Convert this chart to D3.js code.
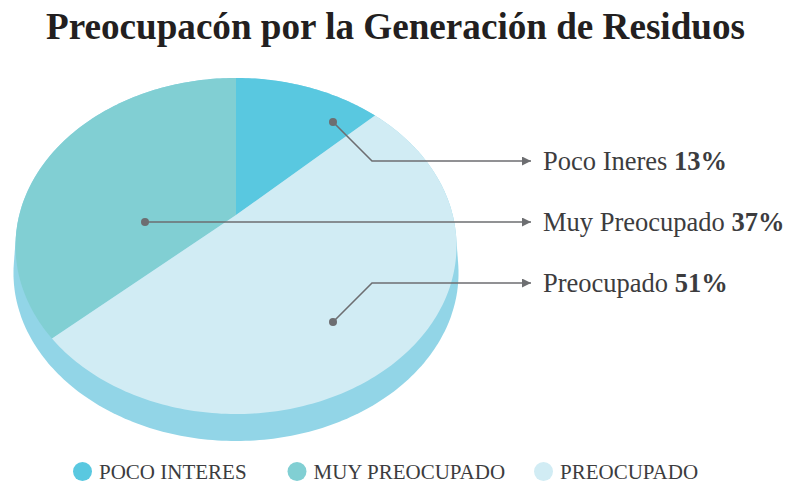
<!DOCTYPE html>
<html>
<head>
<meta charset="utf-8">
<script src="https://cdn.jsdelivr.net/npm/d3@7"></script>
<style>
	html, body { margin: 0; padding: 0; background: #fff; }
	svg { display: block; font-family: "Liberation Serif", "Times New Roman", serif; }
</style>
</head>
<body>
<div id="chart"></div>
<script>
"use strict";

//---- Data
const title = 'Preocupacón por la Generación de Residuos';
const categories = ['POCO INTERES', 'MUY PREOCUPADO', 'PREOCUPADO'];
const labelNames = ['Poco Ineres', 'Muy Preocupado', 'Preocupado'];
const values = [13, 37, 51];
const sliceOrder = ['POCO INTERES', 'PREOCUPADO', 'MUY PREOCUPADO'];
const colors = ['#59c8e0', '#81cfd3', '#d1ecf4'];

const width = 788, height = 482;

// tilted disc, seen with a bit of perspective
const cx = 236, cy = 215, A = 162.3, B = 216.7, k = 0.1845, depth = 27;

function project(a, r, dy = 0, grow = 0) {
	let u = r * Math.sin(a), v = r * Math.cos(a), w = 1 + k * v;
	return [cx + (B + grow) * u / w, cy + dy - A * v / w];
}

let data = categories.map((c, i) => ({ cat: c, name: labelNames[i], value: values[i], color: colors[i] }));

let svg = d3.select('#chart').append('svg')
	.attr('width', width)
	.attr('height', height)
	.attr('viewBox', [0, 0, width, height]);

//---- Title
svg.append('text')
	.attr('x', 395.5)
	.attr('y', 39)
	.attr('text-anchor', 'middle')
	.attr('textLength', 699)
	.attr('lengthAdjust', 'spacingAndGlyphs')
	.style('font-size', '38px')
	.style('font-weight', 'bold')
	.style('fill', '#231f20')
	.text(title);

//---- Side of the disc
let ring = d3.range(0, 2 * Math.PI, Math.PI / 180);
let hull = d3.polygonHull(ring.map(a => project(a, 1)).concat(ring.map(a => project(a, 1, depth, 2))));
svg.append('path')
	.attr('d', 'M' + hull.join('L') + 'Z')
	.style('fill', '#92d5e7');

//---- Slices
let pie = d3.pie()
	.value(d => d.value)
	.sort((a, b) => sliceOrder.indexOf(a.cat) - sliceOrder.indexOf(b.cat));

let line = d3.line();
svg.selectAll('.slice')
	.data(pie(data))
	.join('path')
	.classed('slice', true)
	.attr('d', s => {
		let n = Math.max(2, Math.ceil((s.endAngle - s.startAngle) / (Math.PI / 180)));
		let pts = [project(0, 0)].concat(d3.range(n + 1).map(i => project(s.startAngle + (s.endAngle - s.startAngle) * i / n, 1)));
		return line(pts) + 'Z';
	})
	.style('fill', s => s.data.color);

//---- Leader lines and labels
const leaderColor = '#6d6e71';
let rowY = d3.scalePoint().domain(categories).range([161, 283]);
const leaderDotX = [333, 145, 333], leaderDotDy = [-39, 0, 39], leaderBendX = [372, 145, 372];
const arrowTip = 531, labelX = 543;

svg.append('defs').append('marker')
	.attr('id', 'arrow')
	.attr('viewBox', '0 0 10 10')
	.attr('refX', 10)
	.attr('refY', 5)
	.attr('markerUnits', 'userSpaceOnUse')
	.attr('markerWidth', 9)
	.attr('markerHeight', 9)
	.attr('orient', 'auto')
	.append('path')
		.attr('d', 'M0,0L10,5L0,10Z')
		.style('fill', leaderColor);

let leaders = svg.selectAll('.leader')
	.data(data)
	.join('g')
	.classed('leader', true);

leaders.append('path')
	.attr('d', (d, i) => line([
		[leaderDotX[i], rowY(d.cat) + leaderDotDy[i]],
		[leaderBendX[i], rowY(d.cat)],
		[arrowTip, rowY(d.cat)]
	]))
	.style('fill', 'none')
	.style('stroke', leaderColor)
	.style('stroke-width', 1.6)
	.attr('marker-end', 'url(#arrow)');

leaders.append('circle')
	.attr('cx', (d, i) => leaderDotX[i])
	.attr('cy', (d, i) => rowY(d.cat) + leaderDotDy[i])
	.attr('r', 4)
	.style('fill', leaderColor);

let labels = leaders.append('text')
	.attr('x', labelX)
	.attr('y', d => rowY(d.cat) + 9)
	.style('font-size', '26.5px')
	.style('fill', '#3c3c3e');
labels.append('tspan').text(d => d.name + ' ');
labels.append('tspan').style('font-weight', 'bold').text(d => Math.round(d.value) + '%');

//---- Legend
const legendX = [82.5, 297, 543.5];
let legendItems = svg.selectAll('.legend')
	.data(data)
	.join('g')
	.classed('legend', true)
	.attr('transform', (d, i) => `translate(${legendX[i]}, 471.5)`);

legendItems.append('circle')
	.attr('r', 9.5)
	.style('fill', d => d.color);

legendItems.append('text')
	.attr('x', 16.5)
	.attr('y', 7)
	.style('font-size', '21px')
	.style('fill', '#3c3c3e')
	.text(d => d.cat);
</script>
</body>
</html>
